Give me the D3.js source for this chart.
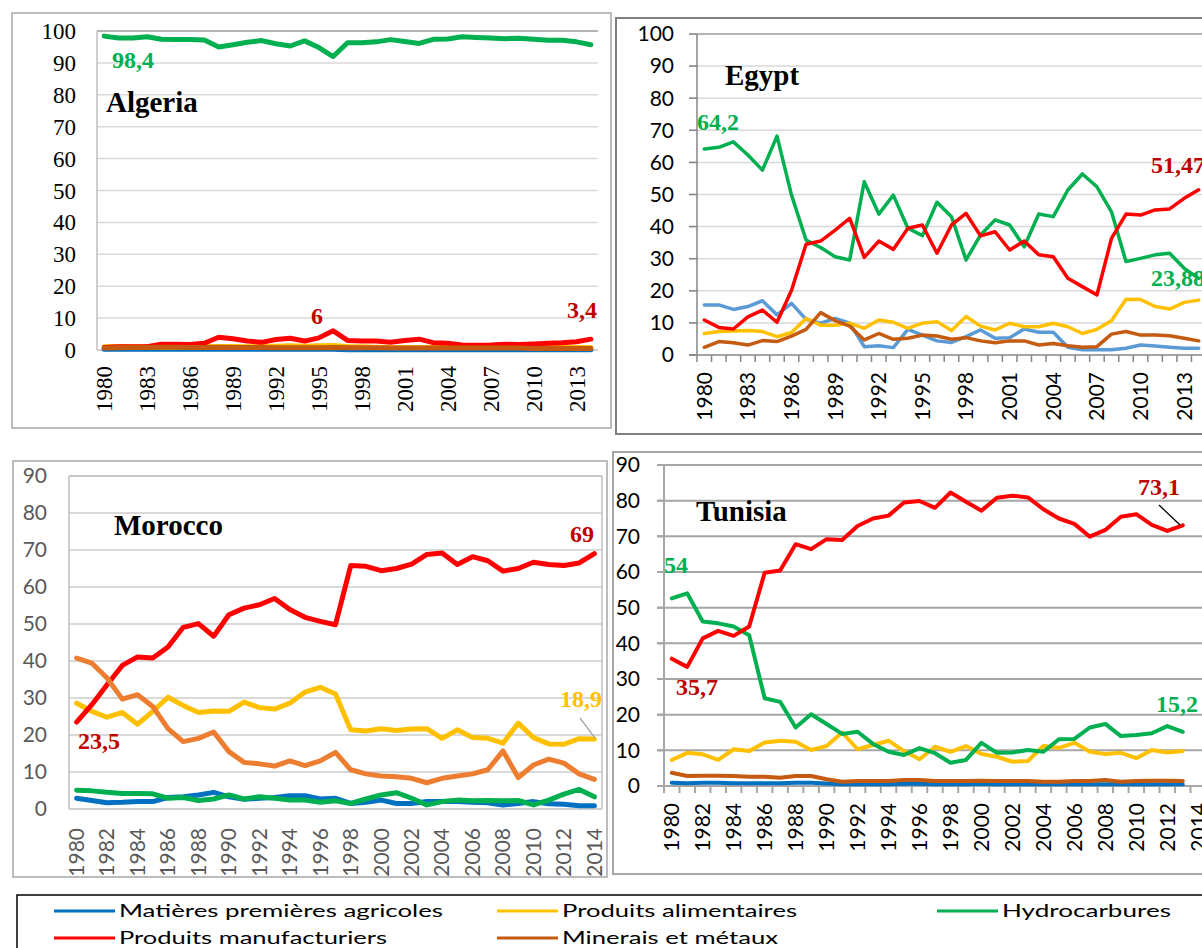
<!DOCTYPE html>
<html><head><meta charset="utf-8">
<script src="https://cdn.jsdelivr.net/npm/d3@7"></script>
<style>body{margin:0;background:#fff}svg{display:block}</style>
</head><body>
<svg id="c" width="1202" height="948"></svg>
<script>
const years = [1980,1981,1982,1983,1984,1985,1986,1987,1988,1989,1990,1991,1992,1993,1994,1995,1996,1997,1998,1999,2000,2001,2002,2003,2004,2005,2006,2007,2008,2009,2010,2011,2012,2013,2014];
const seriesNames = ["Matières premières agricoles","Produits alimentaires","Hydrocarbures","Produits manufacturiers","Minerais et métaux"];

// Algeria (1980-2014)
const algeriaAgri   = [0.2,0.2,0.2,0.2,0.2,0.2,0.2,0.2,0.2,0.2,0.2,0.2,0.2,0.2,0.2,0.2,0.2,0.1,0.1,0.1,0.1,0.1,0.1,0.1,0.1,0.1,0.1,0.1,0.1,0.1,0.1,0.1,0.1,0.1,0.1];
const algeriaFood   = [1.0,1.1,1.0,1.0,0.9,0.9,1.0,1.0,1.1,1.1,1.0,1.1,1.2,1.3,1.2,1.3,1.4,1.1,1.0,0.9,0.8,0.8,0.8,0.9,0.9,0.9,1.0,1.0,0.9,0.9,0.8,0.8,0.8,0.8,0.8];
const algeriaHydro  = [98.4,97.8,97.8,98.2,97.4,97.3,97.3,97.2,95.0,95.7,96.5,97.0,96.0,95.3,96.9,94.8,92.0,96.3,96.3,96.6,97.3,96.7,96.1,97.4,97.5,98.2,98.0,97.8,97.6,97.7,97.4,97.1,97.1,96.6,95.7];
const algeriaManuf  = [0.8,1.0,1.0,1.0,1.8,1.8,1.7,2.1,4.0,3.5,2.8,2.4,3.3,3.7,2.8,3.8,6.0,3.0,2.8,2.8,2.4,3.0,3.4,2.3,2.1,1.6,1.5,1.6,1.8,1.7,1.9,2.1,2.3,2.6,3.4];
const algeriaMin    = [0.6,0.7,0.8,0.8,0.9,0.9,0.8,0.8,0.9,0.8,0.8,0.8,0.7,0.7,0.7,0.7,0.8,0.7,0.7,0.7,0.6,0.6,0.6,0.6,0.6,0.6,0.6,0.6,0.6,0.6,0.5,0.5,0.5,0.5,0.5];

// Egypt (1980-2014)
const egyptAgri  = [15.6,15.6,14.2,15.1,16.9,12.5,16.1,11.1,9.9,11.4,9.9,2.6,2.9,2.3,8.0,6.2,4.4,3.9,5.7,7.8,5.2,5.4,8.1,7.1,7.1,2.4,1.6,1.6,1.6,2.1,3.1,2.8,2.4,2.1,2.1];
const egyptFood  = [6.7,7.3,7.5,7.6,7.3,5.7,7.0,11.4,9.3,9.3,9.9,8.3,10.9,10.2,8.3,9.9,10.4,7.6,12.0,9.0,7.8,9.9,8.8,8.8,9.9,8.8,6.7,8.0,10.7,17.4,17.3,15.1,14.3,16.4,17.1];
const egyptHydro = [64.2,64.7,66.4,62.3,57.6,68.2,49.8,35.8,33.5,30.6,29.6,54.0,43.9,49.8,39.5,37.2,47.6,43.1,29.6,37.4,42.1,40.5,33.7,43.9,43.1,51.4,56.4,52.4,44.6,29.1,30.1,31.2,31.7,27.0,23.88];
const egyptManuf = [10.9,8.6,8.1,11.9,14.0,10.2,20.2,34.5,35.5,38.9,42.6,30.4,35.5,32.9,39.5,40.5,31.7,40.5,44.1,37.1,38.4,32.7,35.5,31.2,30.6,23.9,21.3,18.7,36.3,43.9,43.6,45.2,45.5,48.8,51.47];
const egyptMin   = [2.4,4.2,3.8,3.1,4.5,4.2,5.9,8.0,13.2,10.7,9.0,4.7,6.7,4.9,5.2,6.2,5.9,4.9,5.4,4.4,3.8,4.4,4.4,3.1,3.6,2.9,2.4,2.6,6.5,7.3,6.2,6.2,6.0,5.2,4.4];

// Morocco (1980-2014)
const moroccoAgri  = [2.9,2.3,1.7,1.8,2.0,2.0,3.1,3.3,3.8,4.5,3.3,2.6,2.9,3.1,3.6,3.6,2.7,2.9,1.5,1.8,2.4,1.5,1.5,2.0,2.0,2.0,1.8,1.7,1.1,1.5,2.0,1.4,1.3,0.9,0.9];
const moroccoFood  = [28.6,26.4,24.8,26.1,22.9,26.4,30.2,28.0,26.1,26.5,26.4,28.9,27.4,27.0,28.6,31.6,32.9,31.1,21.4,21.1,21.7,21.2,21.6,21.7,19.1,21.4,19.3,19.1,17.8,23.2,19.3,17.6,17.5,19.0,18.9];
const moroccoHydro = [5.1,4.9,4.5,4.2,4.2,4.1,2.9,3.1,2.3,2.7,3.8,2.7,3.3,2.9,2.4,2.4,1.8,2.2,1.5,2.7,3.8,4.4,2.9,1.1,2.0,2.4,2.2,2.3,2.2,2.3,1.1,2.4,4.0,5.3,3.3];
const moroccoManuf = [23.5,28.2,33.6,38.8,41.1,40.8,43.8,49.1,50.1,46.7,52.5,54.3,55.2,56.9,53.9,51.8,50.7,49.8,65.8,65.6,64.4,65.0,66.2,68.8,69.2,66.1,68.2,67.1,64.3,65.0,66.7,66.1,65.8,66.5,69.0];
const moroccoMin   = [40.8,39.4,35.4,29.7,30.9,27.7,21.7,18.2,19.1,20.8,15.5,12.6,12.2,11.6,13.0,11.7,13.0,15.3,10.6,9.5,8.9,8.7,8.3,7.1,8.3,8.9,9.5,10.6,15.7,8.5,11.9,13.5,12.4,9.5,8.0];

// Tunisia (1980-2013)
const tunisiaAgri  = [0.9,0.8,0.9,0.9,0.8,0.8,0.8,0.8,0.9,0.9,0.7,0.5,0.5,0.5,0.5,0.6,0.6,0.5,0.5,0.5,0.6,0.5,0.5,0.5,0.5,0.5,0.5,0.5,0.5,0.5,0.5,0.5,0.5,0.5];
const tunisiaFood  = [7.3,9.3,8.9,7.3,10.3,9.8,12.2,12.7,12.4,10.1,11.2,15.0,10.3,11.5,12.7,9.8,7.5,11.0,9.6,11.2,9.0,8.2,6.8,7.0,11.2,10.7,12.1,9.6,9.0,9.3,7.8,10.1,9.4,9.8];
const tunisiaHydro = [52.6,54.0,46.1,45.6,44.7,42.3,24.6,23.6,16.4,20.1,17.4,14.6,15.2,11.8,9.6,8.7,10.6,9.2,6.5,7.3,12.1,9.3,9.4,10.1,9.6,13.1,13.2,16.4,17.4,14.0,14.3,14.8,16.8,15.2];
const tunisiaManuf = [35.7,33.4,41.4,43.5,42.1,44.7,59.8,60.4,67.8,66.4,69.2,69.0,72.9,75.0,75.8,79.5,79.9,78.0,82.3,79.7,77.2,80.8,81.4,80.9,77.6,75.0,73.5,69.9,71.8,75.5,76.2,73.2,71.5,73.1];
const tunisiaMin   = [3.7,2.8,2.9,2.9,2.8,2.6,2.6,2.3,2.8,2.8,1.9,1.2,1.4,1.4,1.4,1.7,1.7,1.4,1.4,1.4,1.5,1.4,1.4,1.4,1.2,1.2,1.4,1.4,1.7,1.2,1.4,1.5,1.5,1.4];

const yTicks100 = [0,10,20,30,40,50,60,70,80,90,100];
const yTicks90  = [0,10,20,30,40,50,60,70,80,90];
const xLabelsEvery3 = [1980,1983,1986,1989,1992,1995,1998,2001,2004,2007,2010,2013];
const xLabelsEvery2 = [1980,1982,1984,1986,1988,1990,1992,1994,1996,1998,2000,2002,2004,2006,2008,2010,2012,2014];

const svg = d3.select("#c");
const SERIF = "'Liberation Serif','Times New Roman',serif";
const SANS = "Lato,'Open Sans',sans-serif";
const C = {blue:"#0070C0", lblue:"#5B9BD5", yellow:"#FFC000", green:"#00B050", red:"#FF0000", brown:"#C55A11", orange:"#ED7D31", dred:"#C00000"};

function panel(o){
  const g = svg.append("g");
  // outer box
  g.append("rect").attr("x",o.box[0]).attr("y",o.box[1]).attr("width",o.box[2]-o.box[0]).attr("height",o.box[3]-o.box[1])
    .attr("fill","#fff").attr("stroke",o.boxColor).attr("stroke-width",o.boxW);
  const x = d3.scaleBand().domain(years).range([o.l,o.r]);
  const cx = d => x(d)+x.bandwidth()/2;
  const y = d3.scaleLinear().domain([0,o.yMax]).range([o.b,o.t]);
  // grid
  g.selectAll(".gl").data(o.yTicks.filter(v=>v>0)).join("line")
    .attr("x1",o.gx0).attr("x2",o.gx1).attr("y1",d=>y(d)).attr("y2",d=>y(d))
    .attr("stroke",o.gridColor).attr("stroke-width",o.gridW);
  if(o.topColor) g.append("line").attr("x1",o.l).attr("x2",o.gx1).attr("y1",o.t).attr("y2",o.t).attr("stroke",o.topColor).attr("stroke-width",1.5);
  if(o.rightBorder) g.append("line").attr("x1",o.r).attr("x2",o.r).attr("y1",o.t).attr("y2",o.b).attr("stroke",o.topColor).attr("stroke-width",1.5);
  // y axis line
  g.append("line").attr("x1",o.l).attr("x2",o.l).attr("y1",o.t).attr("y2",o.b).attr("stroke",o.axisColor).attr("stroke-width",o.axisW);
  // x axis line
  g.append("line").attr("x1",o.yTickOut?o.l-o.yTickOut:o.l).attr("x2",o.gx1).attr("y1",o.b).attr("y2",o.b).attr("stroke",o.axisColor).attr("stroke-width",o.axisW);
  if(o.yTickOut){
    g.selectAll(".yt").data(o.yTicks).join("line")
      .attr("x1",o.l-o.yTickOut).attr("x2",o.l).attr("y1",d=>y(d)).attr("y2",d=>y(d))
      .attr("stroke",o.axisColor).attr("stroke-width",o.axisW);
  }
  if(o.xTickLen){
    const bounds = years.map(d=>x(d)).concat([o.r]);
    g.selectAll(".xt").data(bounds).join("line")
      .attr("x1",d=>d).attr("x2",d=>d).attr("y1",o.b).attr("y2",o.b+o.xTickLen)
      .attr("stroke",o.axisColor).attr("stroke-width",o.axisW);
  }
  // y labels
  g.selectAll(".yl").data(o.yTicks).join("text")
    .attr("x",o.yLabelX).attr("y",d=>y(d)).attr("dy","0.35em").attr("text-anchor","end")
    .attr("font-family",o.font).attr("font-size",o.fs).attr("fill",o.labelColor).text(d=>d);
  // x labels
  g.selectAll(".xl").data(o.xLabels).join("text")
    .attr("transform",d=>`translate(${cx(d)},${o.xLabelTop}) rotate(-90)`)
    .attr("dy","0.35em").attr("text-anchor","end")
    .attr("font-family",o.font).attr("font-size",o.fs).attr("fill",o.labelColor).text(d=>d);
  // series
  const line = d3.line().x((d,i)=>cx(years[i])).y(d=>y(d));
  o.series.forEach(s=>{
    g.append("path").datum(s.values).attr("d",line).attr("fill","none")
      .attr("stroke",s.color).attr("stroke-width",o.lineW)
      .attr("stroke-linejoin","round").attr("stroke-linecap","round");
  });
  // title
  g.append("text").attr("x",o.title[1]).attr("y",o.title[2]).attr("font-family",SERIF).attr("font-weight","bold")
    .attr("font-size",o.titleFs).attr("fill","#000").text(o.title[0]);
  (o.leaders||[]).forEach(L=>{
    g.append("line").attr("x1",L[0]).attr("y1",L[1]).attr("x2",L[2]).attr("y2",L[3]).attr("stroke",L[4]).attr("stroke-width",1.3);
  });
  o.notes.forEach(n=>{
    g.append("text").attr("x",n[1]).attr("y",n[2]).attr("font-family",SERIF).attr("font-weight","bold")
      .attr("font-size",o.noteFs).attr("fill",n[3]).text(n[0]);
  });
}

// Algeria
panel({box:[12,13,611,428], l:97, r:598, t:31, b:350, gx0:97, gx1:598, yMax:100, yTicks:yTicks100,
  gridColor:"#D9D9D9", gridW:1.5, topColor:"#A6A6A6", axisColor:"#BFBFBF", axisW:1.5, boxColor:"#A6A6A6", boxW:1.5,
  font:SERIF, fs:23, labelColor:"#000", yLabelX:76, xLabels:xLabelsEvery3, xLabelTop:366, lineW:5,
  series:[{values:algeriaAgri,color:C.blue},{values:algeriaFood,color:C.yellow},{values:algeriaHydro,color:C.green},{values:algeriaManuf,color:C.red},{values:algeriaMin,color:C.brown}],
  title:["Algeria",106,112], titleFs:29, noteFs:24,
  notes:[["98,4",112,68,C.green],["6",311,324,C.dred],["3,4",567,318,C.dred]]});

// Egypt
panel({box:[616,18,1215,434], l:697, r:1206, t:34, b:355, gx0:689, gx1:1202, yMax:100, yTicks:yTicks100,
  gridColor:"#D9D9D9", gridW:1.5, topColor:"#A6A6A6", axisColor:"#868686", axisW:1.5, boxColor:"#808080", boxW:2,
  yTickOut:8, xTickLen:7,
  font:SANS, fs:21, labelColor:"#000", yLabelX:674, xLabels:xLabelsEvery3, xLabelTop:372, lineW:3.5,
  series:[{values:egyptAgri,color:C.lblue},{values:egyptFood,color:C.yellow},{values:egyptHydro,color:C.green},{values:egyptManuf,color:C.red},{values:egyptMin,color:C.brown}],
  title:["Egypt",725,85], titleFs:29, noteFs:24,
  notes:[["64,2",697,130,C.green],["51,47",1151,173,C.dred],["23,88",1151,286,C.green]]});

// Morocco
panel({box:[13,461,607,877], l:69, r:602, t:476, b:809, gx0:69, gx1:602, yMax:90, yTicks:yTicks90,
  gridColor:"#D9D9D9", gridW:2, topColor:"#BFBFBF", rightBorder:true, axisColor:"#BFBFBF", axisW:1.5, boxColor:"#A6A6A6", boxW:1.5,
  font:SANS, fs:21, labelColor:"#595959", yLabelX:47, xLabels:xLabelsEvery2, xLabelTop:828, lineW:5,
  series:[{values:moroccoAgri,color:C.blue},{values:moroccoFood,color:C.yellow},{values:moroccoHydro,color:C.green},{values:moroccoManuf,color:C.red},{values:moroccoMin,color:C.orange}],
  title:["Morocco",114,535], titleFs:29, noteFs:24,
  leaders:[[580,718,595,738,"#A6A6A6"]],
  notes:[["69",570,542,C.dred],["23,5",78,749,C.dred],["18,9",560,707,C.yellow]]});

// Tunisia
panel({box:[613,452,1215,874], l:664, r:1206, t:465, b:786, gx0:657, gx1:1202, yMax:90, yTicks:yTicks90,
  gridColor:"#A6A6A6", gridW:2, topColor:null, axisColor:"#A6A6A6", axisW:2, boxColor:"#A6A6A6", boxW:2,
  yTickOut:7, xTickLen:7,
  font:SANS, fs:21, labelColor:"#000", yLabelX:640, xLabels:xLabelsEvery2, xLabelTop:803, lineW:4,
  series:[{values:tunisiaAgri,color:C.blue},{values:tunisiaFood,color:C.yellow},{values:tunisiaHydro,color:C.green},{values:tunisiaManuf,color:C.red},{values:tunisiaMin,color:C.brown}],
  title:["Tunisia",696,521], titleFs:29, noteFs:24,
  leaders:[[1159,505,1180,525,"#000"]],
  notes:[["54",664,573,C.green],["35,7",676,695,C.dred],["73,1",1138,495,C.dred],["15,2",1156,712,C.green]]});

// Legend
const legendColors = [C.blue,C.yellow,C.green,C.red,C.brown];
const legendPos = [[54,911,324],[497,911,235],[937,911,169],[54,938,268],[497,938,216]];
const lg = svg.append("g");
lg.append("rect").attr("x",17).attr("y",895).attr("width",1200).attr("height",70).attr("fill","#fff").attr("stroke","#000").attr("stroke-width",1.5);
seriesNames.forEach((name,i)=>{
  const p = legendPos[i];
  lg.append("line").attr("x1",p[0]).attr("x2",p[0]+61).attr("y1",p[1]).attr("y2",p[1]).attr("stroke",legendColors[i]).attr("stroke-width",3);
  lg.append("text").attr("x",p[0]+65).attr("y",p[1]).attr("dy","0.35em").attr("font-family",SANS).attr("font-size",17)
    .attr("textLength",p[2]).attr("lengthAdjust","spacingAndGlyphs").attr("fill","#000").text(name);
});
</script>
</body></html>
